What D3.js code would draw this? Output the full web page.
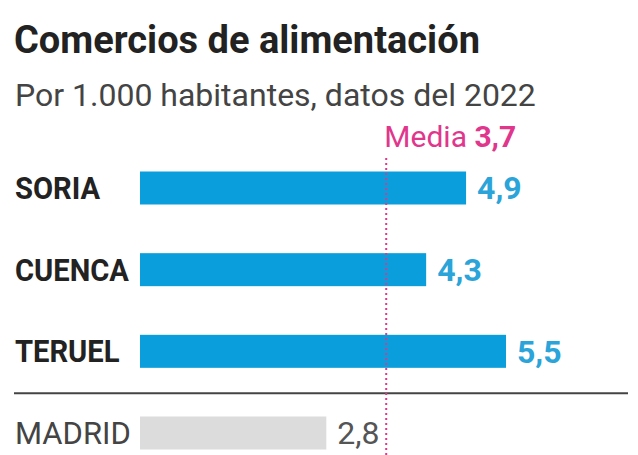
<!DOCTYPE html>
<html>

<head>
    <meta charset="utf-8">
    <title>Comercios de alimentación</title>
    <script src="https://cdn.jsdelivr.net/npm/d3@7"></script>
    <style>
        body { margin: 0; background: #fff; }
        text { font-family: Roboto, 'Noto Sans', sans-serif; }
    </style>
</head>

<body>
    <svg width="638" height="455" id="mainsvg"></svg>
    <script>
        // data
        const provinces = ['SORIA', 'CUENCA', 'TERUEL', 'MADRID'];
        const values = [4.9, 4.3, 5.5, 2.8];
        const highlighted = [true, true, true, false];
        const mediaValue = 3.7;
        const title = 'Comercios de alimentación';
        const subtitle = 'Por 1.000 habitantes, datos del 2022';

        const svg = d3.select('#mainsvg');
        const width = +svg.attr('width');
        const height = +svg.attr('height');

        const data = provinces.map((p, i) => ({ name: p, value: values[i], hl: highlighted[i] }));

        const es = d3.formatLocale({ decimal: ',', thousands: '.', grouping: [3], currency: ['', '€'] });
        const fmt = es.format('.1f');

        const xScale = d3.scaleLinear().domain([0, 5.5]).range([140, 506]);
        const yScale = d3.scalePoint().domain(provinces).range([188, 433]);
        const barH = 33;

        // stretch / squeeze text horizontally to mimic the newspaper font
        const condense = (sel, k) => sel.each(function () {
            const w = this.getComputedTextLength();
            d3.select(this).attr('textLength', w * k).attr('lengthAdjust', 'spacingAndGlyphs');
        });

        svg.append('text')
            .attr('x', 14).attr('y', 53)
            .attr('font-size', 38).attr('font-weight', 'bold')
            .attr('fill', '#222')
            .text(title);

        svg.append('text')
            .attr('x', 15).attr('y', 106)
            .attr('font-size', 32)
            .attr('fill', '#444')
            .text(subtitle);

        // bars
        svg.selectAll('.bar').data(data).join('rect')
            .attr('class', 'bar')
            .attr('x', xScale(0))
            .attr('y', d => yScale(d.name) - barH / 2)
            .attr('width', d => xScale(d.value) - xScale(0))
            .attr('height', barH)
            .attr('fill', d => d.hl ? '#0a9fdc' : '#dcdcdc');

        // category labels
        svg.selectAll('.label').data(data).join('text')
            .attr('class', 'label')
            .attr('x', 15)
            .attr('y', d => yScale(d.name))
            .attr('dy', '0.35em')
            .attr('font-size', 31)
            .attr('font-weight', d => d.hl ? 'bold' : 'normal')
            .attr('fill', d => d.hl ? '#222' : '#444')
            .text(d => d.name)
            .each(function (d) { d3.select(this).call(condense, d.hl ? 0.94 : 1); });

        // value labels
        svg.selectAll('.val').data(data).join('text')
            .attr('class', 'val')
            .attr('x', d => xScale(d.value) + 11)
            .attr('y', d => yScale(d.name))
            .attr('dy', '0.35em')
            .attr('font-size', 32)
            .attr('font-weight', d => d.hl ? 'bold' : 'normal')
            .attr('fill', d => d.hl ? '#2aa4d9' : '#555')
            .text(d => fmt(d.value));

        // separator between the three provinces and Madrid
        const sepY = (yScale('TERUEL') + yScale('MADRID')) / 2 + 1;
        svg.append('line')
            .attr('x1', 14).attr('x2', 628)
            .attr('y1', sepY).attr('y2', sepY)
            .attr('stroke', '#444').attr('stroke-width', 2);

        // average line
        svg.append('line')
            .attr('x1', xScale(mediaValue)).attr('x2', xScale(mediaValue))
            .attr('y1', 158).attr('y2', height)
            .attr('stroke', '#e0368c').attr('stroke-width', 2)
            .attr('stroke-dasharray', '2,3');

        const media = svg.append('text')
            .attr('x', xScale(mediaValue) + 130).attr('y', 147)
            .attr('text-anchor', 'end')
            .attr('font-size', 30)
            .attr('fill', '#e0368c');
        media.append('tspan').text('Media ');
        media.append('tspan').attr('font-weight', 'bold').text(fmt(mediaValue));
    </script>
</body>

</html>
